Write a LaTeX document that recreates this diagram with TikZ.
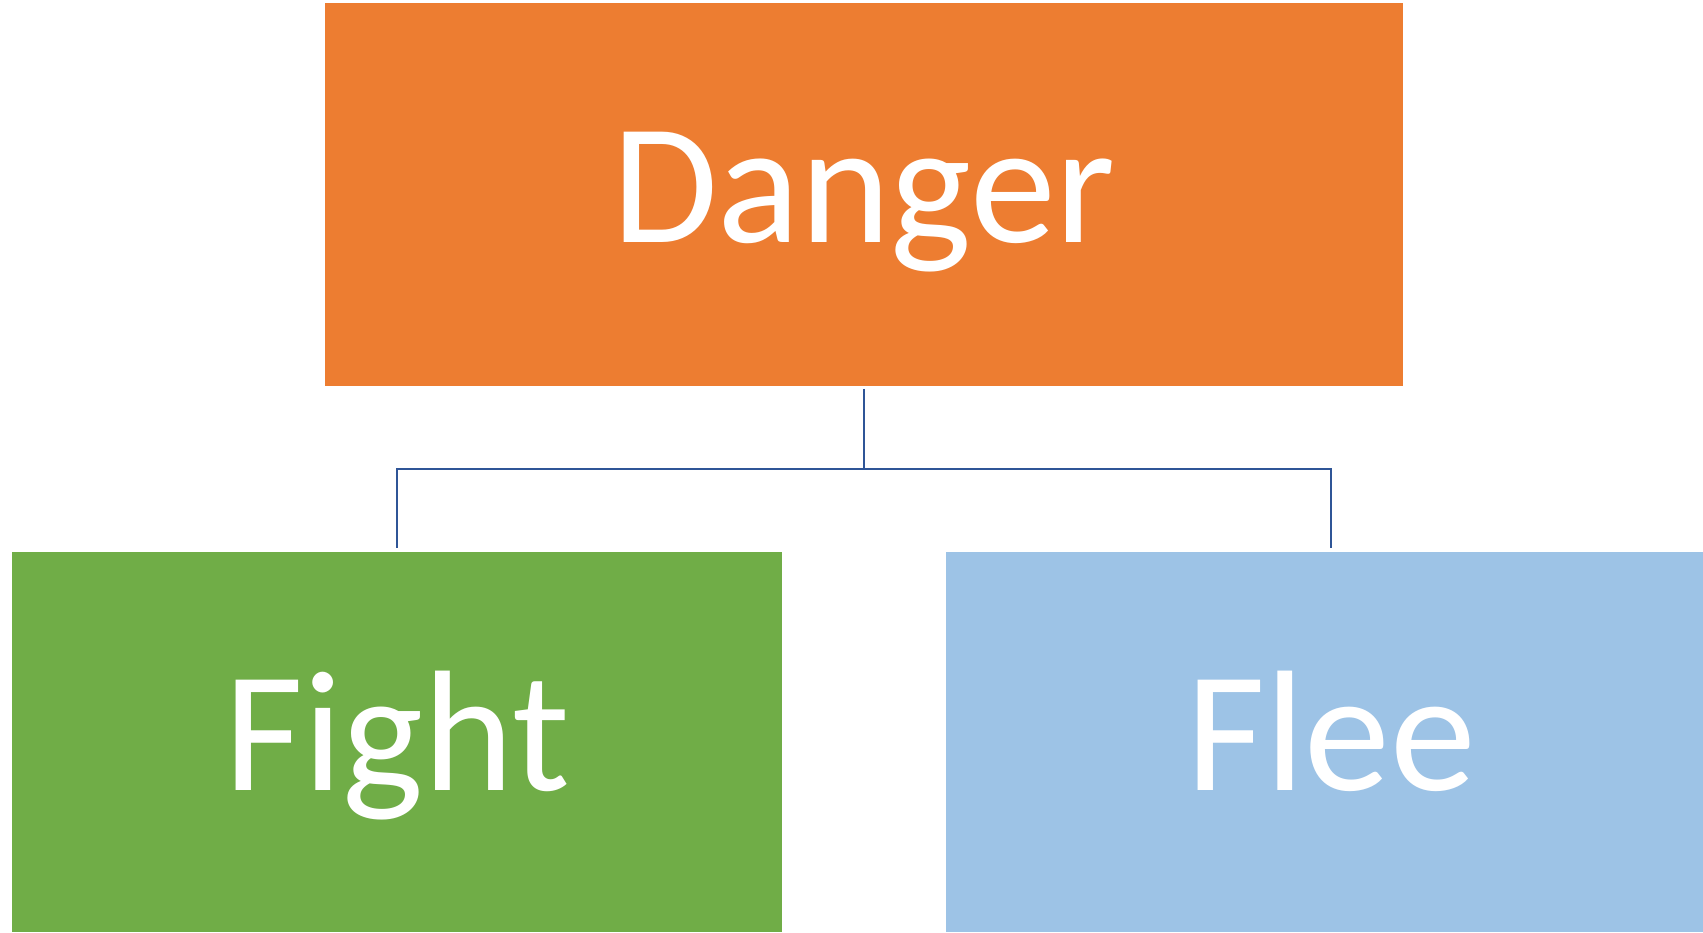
\documentclass[tikz,border=0pt]{standalone}
\usepackage{fontspec}
\setmainfont{Carlito}
\definecolor{DangerOrange}{HTML}{ED7D31}
\definecolor{FightGreen}{HTML}{70AD47}
\definecolor{FleeBlue}{HTML}{9DC3E6}
\definecolor{LinkBlue}{HTML}{2F5597}
\usetikzlibrary{positioning}

\begin{document}
\begin{tikzpicture}[x=1pt,y=1pt,
      box/.style={minimum width=770pt,minimum height=380pt,inner sep=0pt,outer sep=0pt,
                  text=white,font=\fontsize{172}{200}\selectfont,
                  text height=97pt,text depth=0pt,align=center},
      link/.style={draw=LinkBlue,line width=2.5pt}]
    \clip (0,0) rectangle (1703,932);
    \node[box,fill=FightGreen] (fight) at (397,190) {Fight};
    \node[box,fill=FleeBlue,right=164pt of fight] (flee) {Flee};
    \node[box,fill=DangerOrange,minimum width=1078pt,minimum height=383pt] (danger) at (864,737.5) {Danger};
    \draw[link] ([yshift=-3pt]danger.south) -- ++(0,-80) coordinate (hub);
    \foreach \c in {fight,flee}
      \draw[link] (hub) -| ([yshift=4pt]\c.north);
  \end{tikzpicture}
\end{document}
